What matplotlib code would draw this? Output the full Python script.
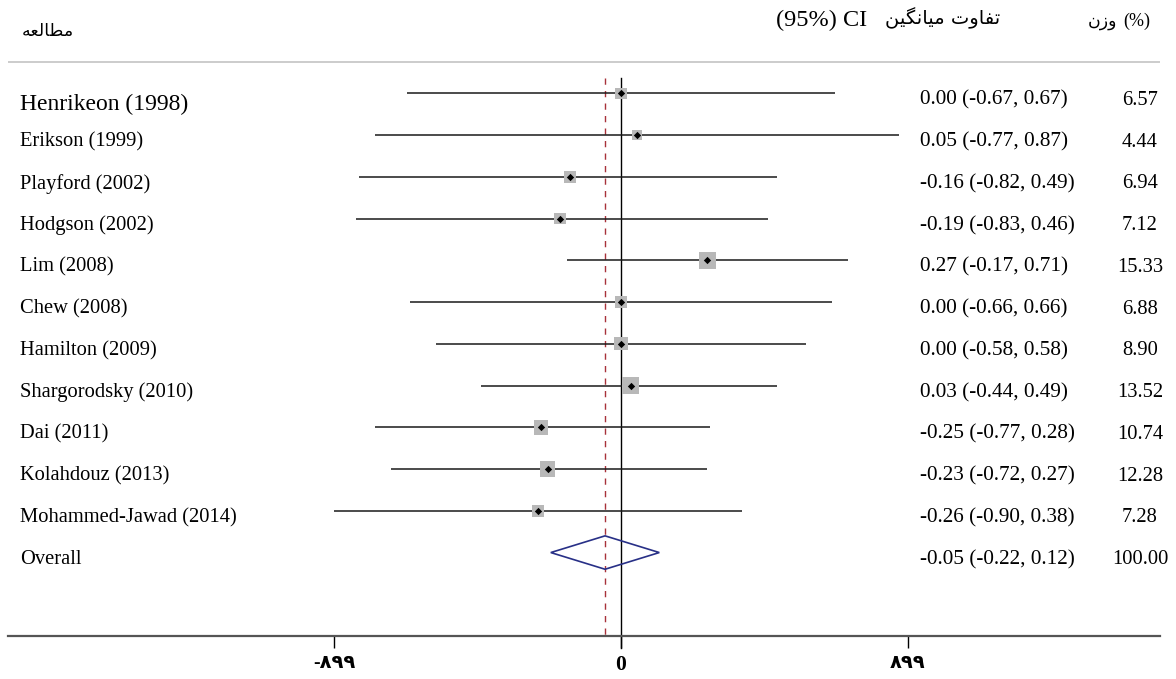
import numpy as np
import matplotlib
matplotlib.use("Agg")
import matplotlib.pyplot as plt
from matplotlib.transforms import blended_transform_factory

# ---------------- data ----------------
studies = ["Henrikeon (1998)", "Erikson (1999)", "Playford (2002)", "Hodgson (2002)",
           "Lim (2008)", "Chew (2008)", "Hamilton (2009)", "Shargorodsky (2010)",
           "Dai (2011)", "Kolahdouz (2013)", "Mohammed-Jawad (2014)"]
md = [0.00, 0.05, -0.16, -0.19, 0.27, 0.00, 0.00, 0.03, -0.25, -0.23, -0.26]
ci_lo = [-0.67, -0.77, -0.82, -0.83, -0.17, -0.66, -0.58, -0.44, -0.77, -0.72, -0.90]
ci_hi = [0.67, 0.87, 0.49, 0.46, 0.71, 0.66, 0.58, 0.49, 0.28, 0.27, 0.38]
weights = [6.57, 4.44, 6.94, 7.12, 15.33, 6.88, 8.90, 13.52, 10.74, 12.28, 7.28]
overall_label = "Overall"
overall = (-0.05, -0.22, 0.12, 100.00)
tick_values = [-0.899, 0, 0.899]
tick_labels = ["-۸۹۹", "0", "۸۹۹"]
hdr_study = "مطالعه"
hdr_md = "تفاوت میانگین"
hdr_ci = "(95%) CI"
hdr_w = "وزن"
hdr_wp = "(%)"

# ---------------- minimal Arabic-script shaping ----------------
FORMS = {
    'م': ('\uFEE1', '\uFEE2', '\uFEE3', '\uFEE4'),
    'ط': ('\uFEC1', '\uFEC2', '\uFEC3', '\uFEC4'),
    'ا': ('\uFE8D', '\uFE8E', '\uFE8D', '\uFE8E'),
    'ل': ('\uFEDD', '\uFEDE', '\uFEDF', '\uFEE0'),
    'ع': ('\uFEC9', '\uFECA', '\uFECB', '\uFECC'),
    'ه': ('\uFEE9', '\uFEEA', '\uFEEB', '\uFEEC'),
    'ت': ('\uFE95', '\uFE96', '\uFE97', '\uFE98'),
    'ف': ('\uFED1', '\uFED2', '\uFED3', '\uFED4'),
    'و': ('\uFEED', '\uFEEE', '\uFEED', '\uFEEE'),
    'ی': ('\uFBFC', '\uFBFD', '\uFBFE', '\uFBFF'),
    'ن': ('\uFEE5', '\uFEE6', '\uFEE7', '\uFEE8'),
    'گ': ('\uFB92', '\uFB93', '\uFB94', '\uFB95'),
    'ز': ('\uFEAF', '\uFEB0', '\uFEAF', '\uFEB0'),
}
NONJOIN_LEFT = set('اوزدذر')


def shape_word(word):
    out = []
    n = len(word)
    for i, ch in enumerate(word):
        if ch not in FORMS:
            out.append(ch)
            continue
        prev = word[i - 1] if i > 0 else None
        nxt = word[i + 1] if i < n - 1 else None
        jp = prev in FORMS and prev not in NONJOIN_LEFT
        jn = nxt in FORMS and ch not in NONJOIN_LEFT
        f = FORMS[ch]
        if jp and jn:
            out.append(f[3])
        elif jp:
            out.append(f[1])
        elif jn:
            out.append(f[2])
        else:
            out.append(f[0])
    return ''.join(reversed(out))


def rtl(text):
    return ' '.join(shape_word(w) for w in reversed(text.split(' ')))


# ---------------- layout ----------------
W, H = 1176, 679
X0, PX = 621.0, 319.2      # pixel of zero, pixels per unit
ROW0, ROWH = 93.3, 41.75   # pixel of first row, row height


def px2x(p):
    return (p - X0) / PX


def px2y(p):
    return (p - ROW0) / ROWH


SERIF = ['Liberation Serif', 'DejaVu Sans']
ARAB = ['DejaVu Sans']
FS = 14.8
FS_CI = 15.3

fig = plt.figure(figsize=(W / 100, H / 100), dpi=100)
ax = fig.add_axes([0, 0, 1, 1])
ax.set_xlim(px2x(0), px2x(W))
ax.set_ylim(px2y(H), px2y(0))

rows = np.arange(len(studies))
orow = len(studies)

# header separator line
ax.plot([px2x(8), px2x(1160)], [px2y(62), px2y(62)], color='#c4c4c4', lw=1.2, solid_capstyle='butt')

# reference lines
ax.plot([0, 0], [px2y(78), px2y(648)], color='black', lw=1.0, zorder=2)
ax.plot([overall[0], overall[0]], [px2y(78), px2y(636)], color='#a8323a', lw=1.0,
        ls=(0, (4.5, 4.5)), zorder=2)

# CI lines
ax.hlines(rows, ci_lo, ci_hi, color='#1a1a1a', lw=1.1, zorder=3)
# weight boxes
sizes = (3.17 * np.sqrt(np.array(weights))) ** 2
ax.scatter(md, rows, s=sizes, marker='s', color='#b8b8b8', linewidths=0, zorder=4)
ax.scatter(md, rows, s=14, marker='D', color='black', linewidths=0, zorder=5)

# overall diamond
dh = 0.4
ax.fill([overall[1], overall[0], overall[2], overall[0]],
        [orow, orow - dh, orow, orow + dh], fill=False, edgecolor='#283087', lw=1.2, zorder=4)

# axis
for s in ['top', 'left', 'right']:
    ax.spines[s].set_visible(False)
ax.spines['bottom'].set_position(('data', px2y(636)))
ax.spines['bottom'].set_bounds(px2x(8), px2x(1160))
ax.spines['bottom'].set_color('#555555')
ax.spines['bottom'].set_linewidth(1.6)
ax.set_yticks([])
ax.set_xticks(tick_values)
ax.set_xticklabels(tick_labels)
ax.tick_params(axis='x', direction='out', length=8.6, width=1.0, color='black', pad=5)
for lab, txt in zip(ax.get_xticklabels(), tick_labels):
    lab.set_family(SERIF)
    lab.set_fontweight('bold')
    lab.set_fontsize(15.5 if txt == "0" else 14)

# text columns
tr = blended_transform_factory(ax.transAxes, ax.transData)
for i, name in enumerate(studies):
    off = (11 if i == 0 else 7) / ROWH
    fs = 17 if i == 0 else FS
    ax.text(20 / W, i + off, name, transform=tr, ha='left', va='center', family=SERIF, fontsize=fs)
    ax.text(920 / W, i + 7 / ROWH, f"{md[i]:.2f} ({ci_lo[i]:.2f}, {ci_hi[i]:.2f})", transform=tr,
            ha='left', va='center', family=SERIF, fontsize=FS_CI)
    ax.text(1140 / W, i + 7 / ROWH, f"{weights[i]:.2f}", transform=tr, ha='center', va='center',
            family=SERIF, fontsize=FS)

off = 7 / ROWH
ax.text(20 / W, orow + off, overall_label, transform=tr, ha='left', va='center', family=SERIF, fontsize=FS)
ax.text(920 / W, orow + off, f"{overall[0]:.2f} ({overall[1]:.2f}, {overall[2]:.2f})", transform=tr,
        ha='left', va='center', family=SERIF, fontsize=FS_CI)
ax.text(1140 / W, orow + off, f"{overall[3]:.2f}", transform=tr, ha='center', va='center',
        family=SERIF, fontsize=FS)

# headers
ax.text(22 / W, px2y(31), rtl(hdr_study), transform=tr, ha='left', va='center', family=ARAB, fontsize=12.5)
ax.text(776 / W, px2y(20), hdr_ci, transform=tr, ha='left', va='center', family=SERIF, fontsize=17.5)
ax.text(1000 / W, px2y(18), rtl(hdr_md), transform=tr, ha='right', va='center', family=ARAB, fontsize=14)
ax.text(1088 / W, px2y(21), rtl(hdr_w), transform=tr, ha='left', va='center', family=ARAB, fontsize=12.5)
ax.text(1150 / W, px2y(21), hdr_wp, transform=tr, ha='right', va='center', family=SERIF, fontsize=13)

fig.savefig("out.png", dpi=100)
